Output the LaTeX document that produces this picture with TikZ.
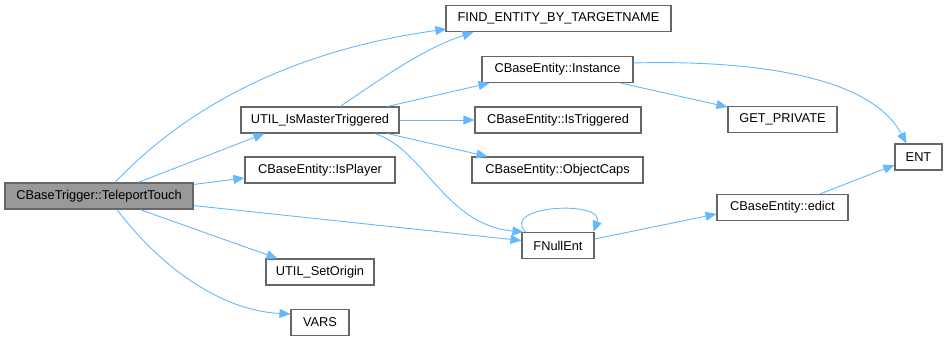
\documentclass[tikz,border=0pt]{standalone}
\usepackage{fontspec}
\setmainfont{Liberation Sans}
\usetikzlibrary{arrows.meta,calc}
\definecolor{edgeblue}{HTML}{63B8FF}
\definecolor{boxgray}{HTML}{666666}
\definecolor{curfill}{HTML}{999999}
\begin{document}
\begin{tikzpicture}[x=1pt,y=-1pt,
  fn/.style={draw=boxgray,line width=1.1pt,fill=white,inner sep=0pt,
    minimum height=26pt,font=\fontsize{12.8}{14}\selectfont,anchor=center},
  cur/.style={fn,fill=curfill},
  call/.style={draw=edgeblue,line width=0.9pt,
    -{Triangle[length=11pt,width=9pt]}}]
\useasboundingbox (0,0) rectangle (947,341);
% functions
\node[cur,minimum width=188pt] (tt) at (99,196) {CBaseTrigger::TeleportTouch};
\node[fn,minimum width=225pt] (find) at (558.5,18.5) {FIND\_ENTITY\_BY\_TARGETNAME};
\node[fn,minimum width=158pt] (imt) at (320,120) {UTIL\_IsMasterTriggered};
\node[fn,minimum width=150pt] (isp) at (320,170) {CBaseEntity::IsPlayer};
\node[fn,minimum width=151pt] (inst) at (557.5,69.5) {CBaseEntity::Instance};
\node[fn,minimum width=166pt] (istr) at (558,120) {CBaseEntity::IsTriggered};
\node[fn,minimum width=171pt] (ocaps) at (557.5,170) {CBaseEntity::ObjectCaps};
\node[fn,minimum width=72pt] (fnull) at (558,245.5) {FNullEnt};
\node[fn,minimum width=131pt] (edict) at (782.5,207.5) {CBaseEntity::edict};
\node[fn,minimum width=108pt] (sorg) at (320,272) {UTIL\_SetOrigin};
\node[fn,minimum width=58pt] (vars) at (320,322.5) {VARS};
\node[fn,minimum width=109pt] (gpriv) at (782.5,119.5) {GET\_PRIVATE};
\node[fn,minimum width=47pt] (ent) at (918.5,157) {ENT};
% calls from TeleportTouch
\draw[call] ($(tt.north)+(16,0)$) .. controls (165,130) and (260,55) .. ($(find.south west)+(1,-3)$);
\draw[call] ($(tt.north)+(39,0)$) -- ($(imt.south west)+(24,0)$);
\draw[call] ($(tt.north east)+(0,2)$) -- ($(isp.west)+(0,8)$);
\draw[call] ($(tt.south east)+(0,-4)$) -- ($(fnull.west)+(0,-5)$);
\draw[call] ($(tt.south)+(41,0)$) -- ($(sorg.north west)+(12,0)$);
\draw[call] ($(tt.south)+(18,0)$) .. controls (155,260) and (215,310) .. ($(vars.west)+(0,-8.5)$);
% calls from UTIL_IsMasterTriggered
\draw[call] ($(imt.north)+(20,0)$) .. controls (380,80) and (420,50) .. ($(find.south west)+(28,0)$);
\draw[call] ($(imt.north east)+(-12,0)$) -- ($(inst.south west)+(8,0)$);
\draw[call] (imt.east) -- (istr.west);
\draw[call] ($(imt.south east)+(-12,0)$) -- ($(ocaps.north west)+(16,0)$);
\draw[call] ($(imt.south)+(55,0)$) .. controls (425,150) and (445,225) .. ($(fnull.north west)+(2,0)$);
% remaining calls
\draw[call] ($(fnull.north west)+(4,0)$) .. controls (500,205) and (605,200) .. ($(fnull.north east)+(-1,0)$);
\draw[call] ($(fnull.east)+(0,-6.5)$) -- ($(edict.west)+(0,6.5)$);
\draw[call] ($(edict.north)+(37.5,0)$) -- ($(ent.west)+(0,8)$);
\draw[call] ($(inst.south east)+(-13,0)$) -- ($(gpriv.north west)+(0,1)$);
\draw[call] ($(inst.north east)+(0,7)$) .. controls (750,60) and (870,75) .. ($(ent.north west)+(12,0)$);
\end{tikzpicture}
\end{document}
